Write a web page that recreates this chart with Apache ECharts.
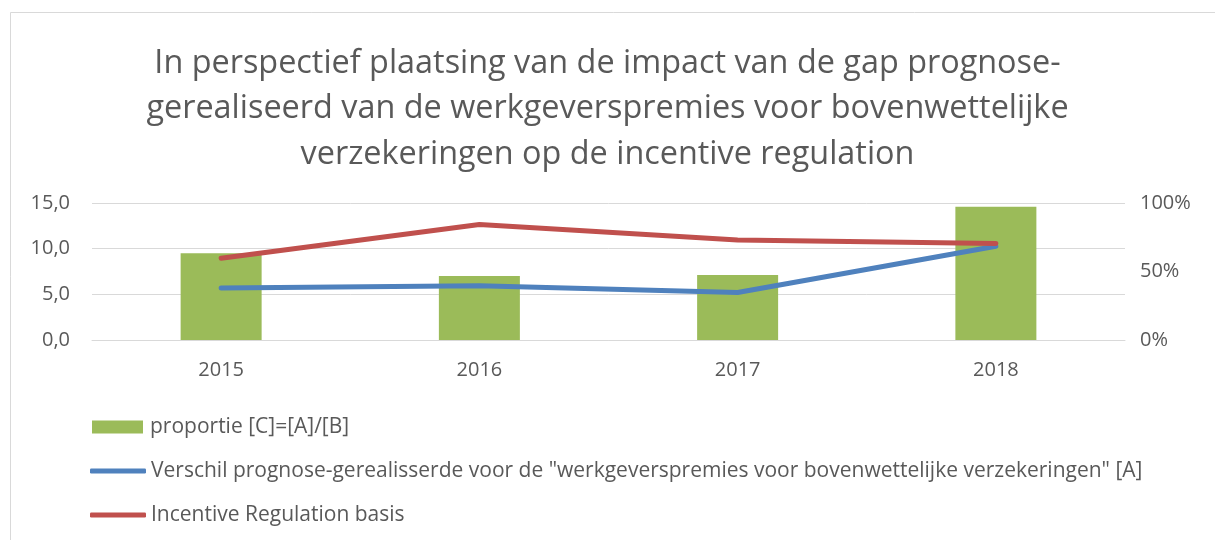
<!DOCTYPE html>
<html><head><meta charset="utf-8">
<script src="https://cdn.jsdelivr.net/npm/echarts@6/dist/echarts.min.js"></script>
<style>html,body{margin:0;padding:0;background:#fff}#c{width:1215px;height:540px}</style>
</head><body><div id="c"></div>
<script>
const categories = ['2015', '2016', '2017', '2018'];
const proportie = [63.4, 46.7, 47.4, 97.2];          // % (right axis)
const verschil = [5.68, 5.94, 5.20, 10.27];          // left axis
const incentive = [8.96, 12.64, 10.96, 10.57];       // left axis
const leftTicks = { min: 0, max: 15, interval: 5 };
const rightTicks = { min: 0, max: 100, interval: 50 };
const names = ['proportie [C]=[A]/[B]',
  'Verschil prognose-gerealisserde voor de "werkgeverspremies voor bovenwettelijke verzekeringen" [A]',
  'Incentive Regulation basis'];
const titleText = 'In perspectief plaatsing van de impact van de gap prognose-\ngerealiseerd van de werkgeverspremies voor bovenwettelijke\nverzekeringen op de incentive regulation';

const FONT = '"Open Sans"';
const TXT = '#595959';
const legText = { fontFamily: FONT, fontSize: 21, color: TXT, lineHeight: 22 };
const chart = echarts.init(document.getElementById('c'));
chart.setOption({
  animation: false,
  backgroundColor: '#fff',
  graphic: [{ type: 'rect', shape: { x: 10.5, y: 12.5, width: 1300, height: 600 },
    style: { fill: 'none', stroke: '#D9D9D9', lineWidth: 1 }, silent: true }],
  title: { text: titleText, left: 'center', top: 36,
    textStyle: { fontFamily: FONT, fontSize: 32.4, fontWeight: 'normal', color: TXT, lineHeight: 45.5 } },
  grid: { left: 92, right: 90, top: 203, bottom: 200, containLabel: false },
  legend: [
    { data: [{ name: names[0], icon: 'rect' }], left: 92, top: 416, padding: 0, itemWidth: 51, itemHeight: 13,
      textStyle: Object.assign({ padding: [0, 0, 0, 2] }, legText) },
    { data: [{ name: names[1], icon: 'roundRect' }], left: 90, top: 460, padding: 0, itemWidth: 56, itemHeight: 5,
      textStyle: Object.assign({ padding: [0, 0, 0, 0] }, legText) },
    { data: [{ name: names[2], icon: 'roundRect' }], left: 90, top: 504, padding: 0, itemWidth: 56, itemHeight: 5,
      textStyle: Object.assign({ padding: [0, 0, 0, 0] }, legText) }
  ],
  xAxis: { type: 'category', data: categories,
    axisLine: { show: true, lineStyle: { color: '#D9D9D9', width: 1 } }, axisTick: { show: false },
    axisLabel: { fontFamily: FONT, fontSize: 20, color: TXT, margin: 20 } },
  yAxis: [
    { type: 'value', min: leftTicks.min, max: leftTicks.max, interval: leftTicks.interval,
      axisLabel: { fontFamily: FONT, fontSize: 20, color: TXT, margin: 22,
        formatter: v => v.toFixed(1).replace('.', ',') },
      splitLine: { lineStyle: { color: '#D9D9D9', width: 1 } }, axisLine: { show: false }, axisTick: { show: false } },
    { type: 'value', min: rightTicks.min, max: rightTicks.max, interval: rightTicks.interval, position: 'right',
      axisLabel: { fontFamily: FONT, fontSize: 20, color: TXT, margin: 15, formatter: v => v + '%' },
      splitLine: { show: false }, axisLine: { show: false }, axisTick: { show: false } }
  ],
  series: [
    { name: names[0], type: 'bar', yAxisIndex: 1, data: proportie, barWidth: 81,
      itemStyle: { color: '#9BBB59' } },
    { name: names[1], type: 'line', yAxisIndex: 0, data: verschil, symbol: 'none',
      lineStyle: { color: '#4F81BD', width: 5, cap: 'round', join: 'round' }, itemStyle: { color: '#4F81BD' } },
    { name: names[2], type: 'line', yAxisIndex: 0, data: incentive, symbol: 'none',
      lineStyle: { color: '#C0504D', width: 5, cap: 'round', join: 'round' }, itemStyle: { color: '#C0504D' } }
  ]
});
</script></body></html>
